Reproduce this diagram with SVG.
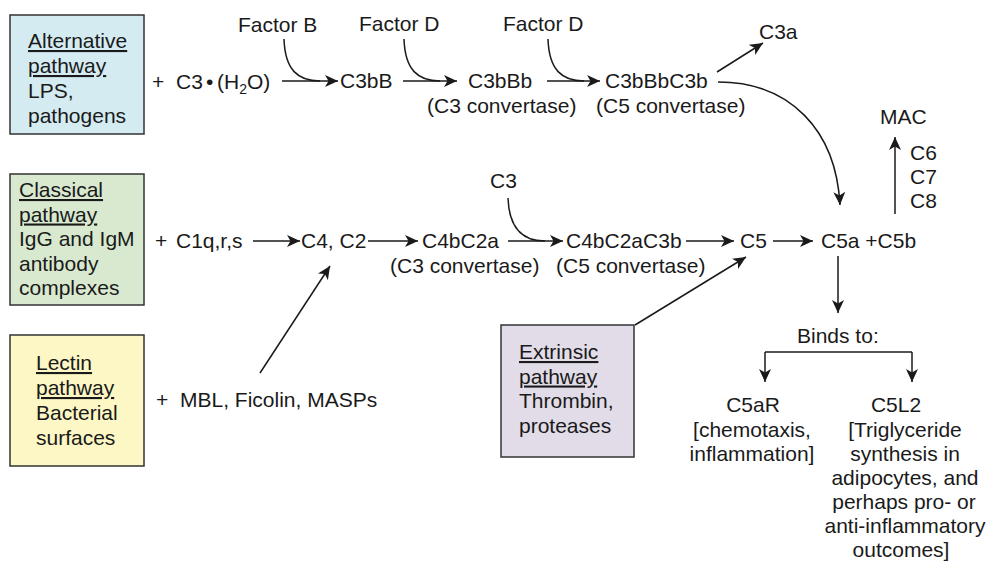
<svg xmlns="http://www.w3.org/2000/svg" width="989" height="571" viewBox="0 0 989 571">
<defs>
<style>
text{font-family:"Liberation Sans",Arial,sans-serif;font-size:21px;fill:#1a1a1a}
.u{text-decoration:underline}
.mid{text-anchor:middle}
.box{stroke:#333;stroke-width:1.5}
.ln{fill:none;stroke:#1a1a1a;stroke-width:1.5}
</style>
<marker id="ah" markerUnits="userSpaceOnUse" markerWidth="14" markerHeight="12" refX="13" refY="6" orient="auto" viewBox="0 0 14 12">
<path d="M0,0 L13,6 L0,12 L3.5,6 z" fill="#1a1a1a"/>
</marker>
</defs>

<g id="alternative">
<rect class="box" x="10" y="15" width="134" height="119" fill="#d4ecf1"/>
<text x="28" y="48"><tspan class="u">Alternative</tspan><tspan x="28" dy="25" class="u">pathway</tspan><tspan x="28" dy="25">LPS,</tspan><tspan x="28" dy="25">pathogens</tspan></text>
</g>
<g id="classical">
<rect class="box" x="10" y="174" width="134" height="131" fill="#d8e9d0"/>
<text x="19" y="197"><tspan class="u">Classical</tspan><tspan x="19" dy="24.5" class="u">pathway</tspan><tspan x="19" dy="24.5">IgG and IgM</tspan><tspan x="19" dy="24.5">antibody</tspan><tspan x="19" dy="24.5">complexes</tspan></text>
</g>
<g id="lectin">
<rect class="box" x="10" y="335" width="134" height="131" fill="#fcf7c4"/>
<text x="36" y="370"><tspan class="u">Lectin</tspan><tspan x="36" dy="25" class="u">pathway</tspan><tspan x="36" dy="25">Bacterial</tspan><tspan x="36" dy="25">surfaces</tspan></text>
</g>
<g id="extrinsic">
<rect class="box" x="501" y="325" width="133" height="132" fill="#e1dce7"/>
<text x="519" y="359"><tspan class="u">Extrinsic</tspan><tspan x="519" dy="24.5" class="u">pathway</tspan><tspan x="519" dy="24.5">Thrombin,</tspan><tspan x="519" dy="24.5">proteases</tspan></text>
</g>

<g id="c3h2o"><text x="152" y="89">+</text><text x="176" y="89">C3</text><text x="206" y="89">•</text><text x="217" y="89">(H<tspan font-size="14" dy="5">2</tspan><tspan dy="-5">O)</tspan></text></g>
<g id="factorB"><text x="238" y="32">Factor B</text></g>
<g id="factorD1"><text x="359" y="31">Factor D</text></g>
<g id="factorD2"><text x="503" y="31">Factor D</text></g>
<g id="c3bB"><text x="340" y="88">C3bB</text></g>
<g id="c3bBb"><text x="468" y="88">C3bBb</text><text x="427" y="113">(C3 convertase)</text></g>
<g id="c3bBbC3b"><text x="605" y="88">C3bBbC3b</text><text x="596" y="113">(C5 convertase)</text></g>
<g id="c3a"><text x="759" y="39">C3a</text></g>

<g id="c1qrs"><text x="155" y="248">+</text><text x="176" y="248">C1q,r,s</text></g>
<g id="c4c2"><text x="301" y="248">C4, C2</text></g>
<g id="c4bC2a"><text x="422" y="248">C4bC2a</text><text x="390" y="273">(C3 convertase)</text></g>
<g id="c3"><text x="490" y="188">C3</text></g>
<g id="c4bC2aC3b"><text x="566" y="248">C4bC2aC3b</text><text x="556" y="273">(C5 convertase)</text></g>
<g id="c5"><text x="740" y="248">C5</text></g>
<g id="c5ab"><text x="821" y="248">C5a +C5b</text></g>
<g id="mac"><text x="880" y="124">MAC</text></g>
<g id="c678"><text x="910" y="160">C6</text><text x="910" y="184">C7</text><text x="910" y="208">C8</text></g>
<g id="mbl"><text x="156" y="407">+</text><text x="180" y="407">MBL, Ficolin, MASPs</text></g>
<g id="binds"><text x="797" y="343">Binds to:</text></g>
<g id="c5ar"><text class="mid" x="753" y="412"><tspan x="753">C5aR</tspan><tspan x="752" dy="24.5">[chemotaxis,</tspan><tspan x="752" dy="24">inflammation]</tspan></text></g>
<g id="c5l2"><text class="mid" x="897" y="412"><tspan x="896">C5L2</tspan><tspan x="905" dy="24.5">[Triglyceride</tspan><tspan x="905" dy="24">synthesis in</tspan><tspan x="905" dy="24">adipocytes, and</tspan><tspan x="904" dy="24">perhaps pro- or</tspan><tspan x="905" dy="24">anti-inflammatory</tspan><tspan x="901" dy="24">outcomes]</tspan></text></g>

<g id="connectors">
<path class="ln" d="M282,81 H338" marker-end="url(#ah)"/>
<path class="ln" d="M284,39 C285,70 298,81 320,81"/>
<path class="ln" d="M403,81 H457" marker-end="url(#ah)"/>
<path class="ln" d="M404,39 C405,70 418,81 440,81"/>
<path class="ln" d="M547,81 H600" marker-end="url(#ah)"/>
<path class="ln" d="M548,39 C549,70 562,81 584,81"/>
<path class="ln" d="M717,72 L763,43" marker-end="url(#ah)"/>
<path class="ln" d="M718,82 C790,82 836,130 840,205" marker-end="url(#ah)"/>
<path class="ln" d="M253,241 H300" marker-end="url(#ah)"/>
<path class="ln" d="M368,241 H418" marker-end="url(#ah)"/>
<path class="ln" d="M508,241 H563" marker-end="url(#ah)"/>
<path class="ln" d="M508,198 C509,228 522,241 545,241"/>
<path class="ln" d="M686,241 H734" marker-end="url(#ah)"/>
<path class="ln" d="M773,241 H813" marker-end="url(#ah)"/>
<path class="ln" d="M895,214 V137" marker-end="url(#ah)"/>
<path class="ln" d="M838,256 V313" marker-end="url(#ah)"/>
<path class="ln" d="M260,373 L330,266" marker-end="url(#ah)"/>
<path class="ln" d="M635,325 L746,257" marker-end="url(#ah)"/>
<path class="ln" d="M765,352 H912"/>
<path class="ln" d="M765,352 V382" marker-end="url(#ah)"/>
<path class="ln" d="M912,352 V382" marker-end="url(#ah)"/>
</g>
</svg>
